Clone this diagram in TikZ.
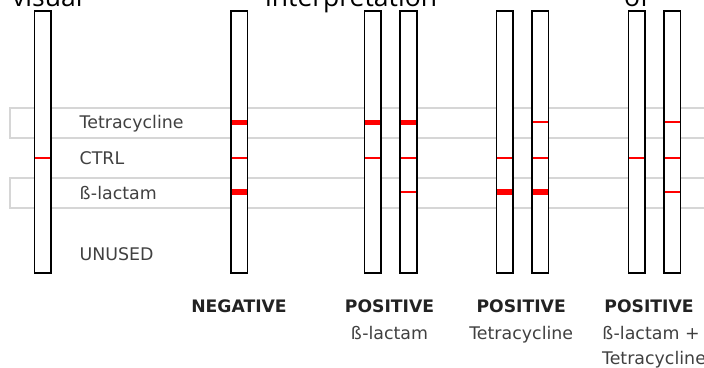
\documentclass[tikz,border=0pt]{standalone}
\usepackage{fontspec}
\setmainfont{DejaVu Sans}
\newfontfamily\topfont{Open Sans}
\definecolor{bandgray}{HTML}{D6D6D6}
\definecolor{labelgray}{HTML}{404040}
\definecolor{boldtxt}{HTML}{222222}
\begin{document}
\begin{tikzpicture}[x=1pt,y=-1pt,
  band/.style={draw=bandgray,line width=2pt},
  strip/.style={draw=black,line width=1.6pt,fill=white},
  thickmark/.style={fill=red,draw=none},
  thinmark/.style={draw=red,line width=1.8pt},
  toptxt/.style={anchor=base west,inner sep=0pt,font=\topfont\fontsize{26.5}{30}\selectfont},
  lbl/.style={anchor=base west,inner sep=0pt,text=labelgray,font=\fontsize{17.4}{20}\selectfont},
  res/.style={anchor=base,inner sep=0pt,text=boldtxt,font=\bfseries\fontsize{17.2}{20}\selectfont},
  sub/.style={anchor=base,inner sep=0pt,text=labelgray,font=\fontsize{17.4}{20}\selectfont}]
\useasboundingbox (0,0) rectangle (704,367);
% top words
\node[toptxt] (w1) at (12,6) {visual};
\node[toptxt] (w2) at (265,6) {interpretation};
\node[toptxt] (w3) at (624,6) {of};
% bands
\draw[band] (10,107.5) rectangle (720,137.5);
\draw[band] (10,177.5) rectangle (720,207.5);
% strips
\def\hw{8.3}
\foreach \cx in {42.8,239.2,372.7,408.5,504.7,540,636.7,672}{
  \draw[strip] (\cx-\hw,10.7) rectangle (\cx+\hw,273);
}
% thick marks (x centre / y centre)
\foreach \cx/\cy in {239.2/122.3,239.2/192,372.7/122.3,408.5/122.3,504.7/192,540/192}{
  \fill[thickmark] (\cx-7.5,\cy-2.8) rectangle (\cx+7.5,\cy+2.8);
}
% thin marks
\foreach \cx/\cy in {42.8/158.3,239.2/158.3,372.7/158.3,408.5/158.3,408.5/192,
                     504.7/158.3,540/122.3,540/158.3,636.7/158.3,
                     672/122.3,672/158.3,672/192}{
  \draw[thinmark] (\cx-7.5,\cy) -- (\cx+7.5,\cy);
}
% row labels
\node[lbl] (ltet) at (79.5,128.5) {Tetracycline};
\node[lbl] (lctrl) at (79.5,164.5) {CTRL};
\node[lbl] (lbeta) at (79.5,199) {ß-lactam};
\node[lbl] (lunused) at (79.5,260) {UNUSED};
% result labels
\node[res] (rneg) at (239,312.7) {NEGATIVE};
\node[res] (rpos1) at (389.5,312.7) {POSITIVE};
\node[res] (rpos2) at (521.2,312.7) {POSITIVE};
\node[res] (rpos3) at (649,312.7) {POSITIVE};
\node[sub] (sub1) at (389.5,339.3) {ß-lactam};
\node[sub] (sub2) at (521.2,339.3) {Tetracycline};
\node[sub] (sub3) at (651,339.3) {ß-lactam +};
\node[sub] (sub4) at (654,364) {Tetracycline};
\end{tikzpicture}
\end{document}
